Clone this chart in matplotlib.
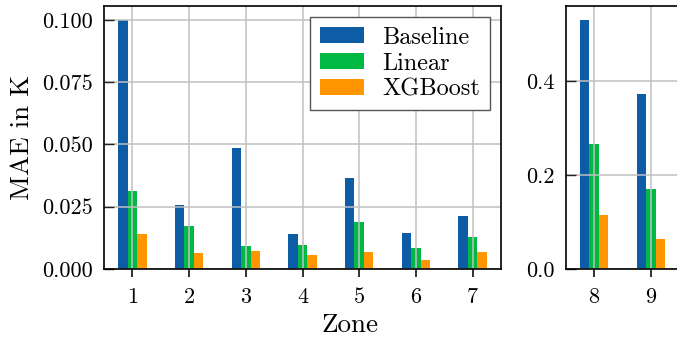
import numpy as np
import matplotlib
matplotlib.use("Agg")
import matplotlib.pyplot as plt
from matplotlib.ticker import MultipleLocator, FormatStrFormatter

# data
zones_a = [1, 2, 3, 4, 5, 6, 7]
zones_b = [8, 9]
baseline_a = [0.1000, 0.0257, 0.0487, 0.0141, 0.0365, 0.0145, 0.0213]
linear_a = [0.0313, 0.0173, 0.0092, 0.0096, 0.0189, 0.0084, 0.0129]
xgb_a = [0.0141, 0.0064, 0.0074, 0.0056, 0.0068, 0.0036, 0.0068]
baseline_b = [0.532, 0.373]
linear_b = [0.266, 0.170]
xgb_b = [0.1146, 0.0634]

names = ["Baseline", "Linear", "XGBoost"]
colors = ["#0C5DA5", "#00B945", "#FF9500"]

plt.rcParams["font.family"] = "cmr10"
plt.rcParams["font.size"] = 16
plt.rcParams["axes.unicode_minus"] = False

W, H = 677, 341
fig = plt.figure(figsize=(W / 100, H / 100), dpi=100)
ax1 = fig.add_axes([104 / W, (H - 269) / H, 397 / W, 263 / H])
ax2 = fig.add_axes([565.5 / W, (H - 269) / H, 114 / W, 263 / H])

w = 1 / 6


def draw(ax, zones, series):
    x = np.array(zones, dtype=float)
    for i, (vals, c, n) in enumerate(zip(series, colors, names)):
        ax.bar(x + (i - 1) * w, vals, width=w, color=c, label=n, zorder=1)
    ax.set_xticks(zones)
    ax.set_xlim(zones[0] - 0.5, zones[-1] + 0.5)
    ax.grid(True, color="#c0c0c0", linewidth=1.1, zorder=3)
    ax.set_axisbelow(False)
    for s in ax.spines.values():
        s.set_linewidth(1.2)
        s.set_zorder(4)
    ax.tick_params(axis="x", direction="out", length=6, width=1.3, pad=7,
                   color="#222222")
    ax.tick_params(axis="y", direction="in", length=7, width=1.0, pad=8,
                   color="#222222")


draw(ax1, zones_a, [baseline_a, linear_a, xgb_a])
draw(ax2, zones_b, [baseline_b, linear_b, xgb_b])

ax1.set_ylim(0, 0.1056)
ax1.yaxis.set_major_locator(MultipleLocator(0.025))
ax1.yaxis.set_major_formatter(FormatStrFormatter("%.3f"))
ax2.set_ylim(0, 0.561)
ax2.yaxis.set_major_locator(MultipleLocator(0.2))
ax2.yaxis.set_major_formatter(FormatStrFormatter("%.1f"))

ax1.set_ylabel("MAE in K", fontsize=19.5, labelpad=6)
fig.text(350 / W, 1 - 325 / H, "Zone", ha="center", va="center", fontsize=19.5)

leg = ax1.legend(loc="upper right", fancybox=False, framealpha=1,
                 edgecolor="#555555", borderaxespad=0.45, fontsize=17.5,
                 handlelength=1.85, handleheight=0.66, handletextpad=0.74,
                 labelspacing=0.15, borderpad=0.4)
leg.get_frame().set_linewidth(1.0)

fig.savefig("out.png", dpi=100)
